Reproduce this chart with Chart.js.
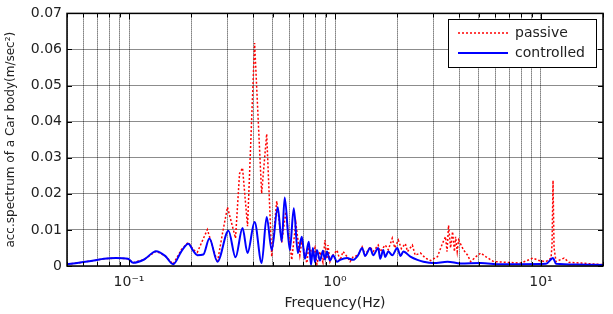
<!DOCTYPE html>
<html lang="en">
  <head>
    <meta charset="utf-8" />
    <title>acc. spectrum of a car body</title>
    <style>
      * {
        margin: 0;
        padding: 0;
      }
      body {
        background: #fff;
      }
      .chartBox {
        width: 613px;
        height: 314px;
      }
    </style>
  </head>
  <body>
    <div class="chartBox">
      <canvas id="myChart" width="613" height="314"></canvas>
    </div>

    <script src="https://cdn.jsdelivr.net/npm/chart.js"></script>

    <script>
      // passive (red dotted)
      const passiveFreq = [
        0.05, 0.057, 0.0675, 0.0755, 0.0864, 0.0989, 0.1046, 0.1184, 0.1354, 0.1498,
        0.1639, 0.1793, 0.194, 0.2052, 0.2146, 0.2401, 0.2687, 0.2842, 0.3006, 0.3289,
        0.344, 0.3557, 0.3762, 0.4071, 0.4404, 0.4659, 0.4929, 0.5213, 0.5514, 0.5768,
        0.6168, 0.6452, 0.675, 0.6902, 0.73, 0.7465, 0.781, 0.7989, 0.8169, 0.8449,
        0.874, 0.8936, 0.9141, 0.9245, 0.9454, 0.9778, 1.0228, 1.0578, 1.094, 1.1441,
        1.1833, 1.224, 1.2945, 1.3542, 1.4006, 1.4814, 1.5323, 1.6209, 1.6577, 1.7536,
        1.8137, 1.8968, 1.95, 2.0292, 2.1, 2.1951, 2.25, 2.3748, 2.45, 2.5977,
        2.7479, 2.9068, 3.1447, 3.3266, 3.44, 3.5, 3.558, 3.64, 3.7218, 3.8,
        3.8493, 3.92, 3.9811, 4.2109, 4.4044, 4.5551, 4.8177, 5.0955, 5.3893, 5.8955,
        6.9025, 7.9875, 9.1411, 9.777, 10.578, 11.19, 11.315, 11.441, 11.57, 11.834,
        12.945, 13.694, 15.671, 17.539, 20
      ];
      const passiveAcc = [
        0.0005, 0.0009, 0.0015, 0.002, 0.0022, 0.002, 0.0009, 0.0018, 0.0041, 0.0028,
        0.0005, 0.0045, 0.0066, 0.0045, 0.0038, 0.0101, 0.001, 0.009, 0.0163, 0.0077,
        0.0256, 0.0272, 0.011, 0.0618, 0.0201, 0.0366, 0.0026, 0.018, 0.0065, 0.015,
        0.0017, 0.012, 0.003, 0.007, 0.0008, 0.0055, 0.003, 0.005, 0.0005, 0.004,
        0.001, 0.0072, 0.002, 0.0058, 0.0012, 0.003, 0.0044, 0.0015, 0.004, 0.0026,
        0.0012, 0.0025, 0.003, 0.0053, 0.003, 0.0053, 0.004, 0.0058, 0.004, 0.0058,
        0.0045, 0.0077, 0.005, 0.0072, 0.0048, 0.0062, 0.004, 0.0058, 0.003, 0.0036,
        0.0022, 0.0015, 0.0026, 0.0063, 0.0081, 0.004, 0.0113, 0.005, 0.0095, 0.004,
        0.0081, 0.004, 0.0072, 0.0044, 0.003, 0.0012, 0.0025, 0.0036, 0.0026, 0.0012,
        0.001, 0.0008, 0.0022, 0.0015, 0.0012, 0.0022, 0.006, 0.0237, 0.005, 0.0012,
        0.0022, 0.001, 0.0008, 0.0006, 0.0004
      ];

      // controlled (blue solid)
      const controlledFreq = [
        0.05, 0.057, 0.0675, 0.0755, 0.0864, 0.0989, 0.1046, 0.1184, 0.1354, 0.1498,
        0.1639, 0.1793, 0.194, 0.2052, 0.2146, 0.2296, 0.2456, 0.2687, 0.304, 0.3289,
        0.3557, 0.3762, 0.4071, 0.4404, 0.4659, 0.4929, 0.5272, 0.5514, 0.57, 0.6032,
        0.631, 0.66, 0.6902, 0.7139, 0.7465, 0.765, 0.781, 0.8, 0.8169, 0.8449,
        0.874, 0.8936, 0.9141, 0.9454, 0.9778, 1.0228, 1.0578, 1.1441, 1.224, 1.2945,
        1.3542, 1.4006, 1.4814, 1.5323, 1.6209, 1.6577, 1.7145, 1.7536, 1.8137, 1.8968,
        2.0065, 2.08, 2.1464, 2.3222, 2.5119, 2.687, 3.0061, 3.5183, 4.0715, 5.0955,
        6.3805, 7.9875, 10.578, 11.441, 11.834, 14.814, 20
      ];
      const controlledAcc = [
        0.0005, 0.0009, 0.0015, 0.002, 0.0022, 0.002, 0.0009, 0.0018, 0.0041, 0.0028,
        0.0005, 0.004, 0.0062, 0.0042, 0.003, 0.0032, 0.0076, 0.0012, 0.0098, 0.0024,
        0.0105, 0.0036, 0.0122, 0.0008, 0.0136, 0.0044, 0.0163, 0.0068, 0.019, 0.0044,
        0.016, 0.0036, 0.0081, 0.002, 0.0067, 0.0003, 0.005, 0.001, 0.0044, 0.0015,
        0.0042, 0.0018, 0.004, 0.0015, 0.003, 0.0012, 0.0017, 0.0022, 0.0017, 0.003,
        0.005, 0.0028, 0.005, 0.003, 0.005, 0.002, 0.0044, 0.0025, 0.004, 0.003,
        0.005, 0.0028, 0.004, 0.0026, 0.0017, 0.0012, 0.0008, 0.0012, 0.0007, 0.0008,
        0.0005, 0.0005, 0.0006, 0.0022, 0.0006, 0.0004, 0.0003
      ];

      const xTickValues = [
        0.05, 0.06, 0.07, 0.08, 0.09,
        0.1, 0.2, 0.3, 0.4, 0.5, 0.6, 0.7, 0.8, 0.9,
        1, 2, 3, 4, 5, 6, 7, 8, 9,
        10, 20
      ];
      const xTickLabels = { 0.1: "10⁻¹", 1: "10⁰", 10: "10¹" };
      const yTickValues = [0, 0.01, 0.02, 0.03, 0.04, 0.05, 0.06, 0.07];

      const seriesNames = ["passive", "controlled"];

      const toPoints = (xs, ys) => xs.map((x, i) => ({ x: x, y: ys[i] }));

      const FONT = "'DejaVu Sans', sans-serif";

      // frame, inward ticks and matlab-like legend
      const framePlugin = {
        id: "frame",
        afterDraw(chart) {
          const { ctx, chartArea: a, scales } = chart;
          ctx.save();
          ctx.strokeStyle = "#000";
          ctx.lineWidth = 1;
          ctx.beginPath();
          xTickValues.forEach((v) => {
            const px = Math.round(scales.x.getPixelForValue(v)) + 0.5;
            const len = xTickLabels[v] ? 6 : 4;
            ctx.moveTo(px, a.bottom);
            ctx.lineTo(px, a.bottom - len);
            ctx.moveTo(px, a.top);
            ctx.lineTo(px, a.top + len);
          });
          yTickValues.forEach((v) => {
            const py = Math.round(scales.y.getPixelForValue(v)) + 0.5;
            ctx.moveTo(a.left, py);
            ctx.lineTo(a.left + 5, py);
            ctx.moveTo(a.right, py);
            ctx.lineTo(a.right - 5, py);
          });
          ctx.stroke();

          ctx.lineWidth = 1.5;
          ctx.strokeRect(a.left, a.top, a.right - a.left, a.bottom - a.top);

          // legend
          const lx = 448, ly = 19, lw = 148, lh = 48;
          ctx.fillStyle = "#fff";
          ctx.fillRect(lx, ly, lw, lh);
          ctx.lineWidth = 1;
          ctx.strokeRect(lx + 0.5, ly + 0.5, lw, lh);
          ctx.font = "14px " + FONT;
          ctx.textBaseline = "middle";
          seriesNames.forEach((name, i) => {
            const ds = chart.data.datasets.find((d) => d.label === name);
            const yy = ly + 14 + i * 20;
            ctx.beginPath();
            ctx.strokeStyle = ds.borderColor;
            ctx.lineWidth = ds.borderWidth;
            ctx.setLineDash(ds.borderDash || []);
            ctx.moveTo(lx + 10, yy);
            ctx.lineTo(lx + 60, yy);
            ctx.stroke();
            ctx.setLineDash([]);
            ctx.fillStyle = "#222";
            ctx.fillText(name, lx + 67, yy);
          });
          ctx.restore();
        },
      };

      const data = {
        datasets: [
          {
            label: "controlled",
            data: toPoints(controlledFreq, controlledAcc),
            borderColor: "#0000ff",
            borderWidth: 2,
            cubicInterpolationMode: "monotone",
          },
          {
            label: "passive",
            data: toPoints(passiveFreq, passiveAcc),
            borderColor: "#ff0000",
            borderWidth: 1.5,
            borderDash: [2, 2],
          },
        ],
      };

      const config = {
        type: "line",
        data: data,
        options: {
          responsive: false,
          animation: false,
          elements: { point: { radius: 0 }, line: { tension: 0 } },
          layout: { padding: { top: 12, right: 10, left: 0, bottom: 0 } },
          plugins: { legend: { display: false }, tooltip: { enabled: false } },
          scales: {
            x: {
              type: "logarithmic",
              min: 0.05,
              max: 20,
              afterBuildTicks: (s) => {
                s.ticks = xTickValues.map((v) => ({ value: v }));
              },
              afterFit: (s) => {
                s.height = 48;
              },
              ticks: {
                autoSkip: false,
                maxRotation: 0,
                padding: 8,
                color: "#222",
                font: { family: FONT, size: 14 },
                callback: (v) => xTickLabels[v] || "",
              },
              grid: { color: "rgba(0,0,0,0.8)", drawTicks: false },
              border: { display: false, dash: [1, 1] },
              title: {
                display: true,
                text: "Frequency(Hz)",
                color: "#222",
                font: { family: FONT, size: 14 },
                padding: { top: 4, bottom: 2 },
              },
            },
            y: {
              min: 0,
              max: 0.07,
              afterBuildTicks: (s) => {
                s.ticks = yTickValues.map((v) => ({ value: v }));
              },
              afterFit: (s) => {
                s.width = 67;
              },
              ticks: {
                padding: 5,
                color: "#222",
                font: { family: FONT, size: 14 },
                callback: (v) => (v === 0 ? "0" : v.toFixed(2)),
              },
              grid: { color: "rgba(0,0,0,0.45)", drawTicks: false },
              border: { display: false },
              title: {
                display: true,
                text: "acc.spectrum of a Car body(m/sec²)",
                color: "#222",
                font: { family: FONT, size: 12 },
                padding: { top: 4, bottom: 2 },
              },
            },
          },
        },
        plugins: [framePlugin],
      };

      const myChart = new Chart(document.getElementById("myChart"), config);
    </script>
  </body>
</html>
